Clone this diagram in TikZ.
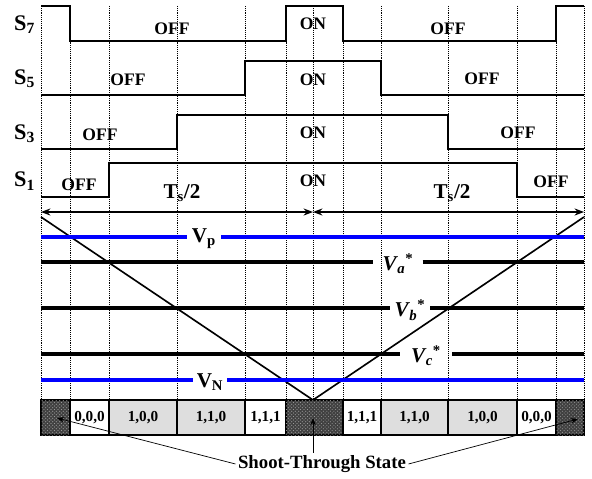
\documentclass[tikz,border=0pt]{standalone}
\usepackage{fontspec}
\setmainfont{Liberation Serif}
\usetikzlibrary{patterns,arrows.meta}
\newcommand{\vref}[1]{\textbf{\textit{V\kern0.5pt}}\textsubscript{\textbf{\textit{#1}}}\textsuperscript{\textbf{*}}}
\tikzset{
  sig/.style={line width=1.8pt},
  guide/.style={densely dotted, line width=0.6pt},
  carrier/.style={line width=1.4pt},
  level/.style={line width=2.8pt},
  blevel/.style={line width=2.6pt, blue},
  lbl/.style={font=\bfseries\fontsize{15}{18}\selectfont, inner sep=1pt},
  slbl/.style={font=\bfseries\fontsize{19}{22}\selectfont, anchor=west, inner sep=0pt},
  vlbl/.style={font=\bfseries\fontsize{18}{21}\selectfont, inner sep=0pt},
  cellW/.style={draw, line width=1.4pt, fill=white},
  cellL/.style={draw, line width=1.4pt, fill=black!13},
  cellD/.style={draw, line width=1.4pt, fill=black!75,
    postaction={pattern=crosshatch dots, pattern color=black!40}},
  pointer/.style={-{Stealth[length=6pt]}, line width=0.6pt}
}
\begin{document}
\begin{tikzpicture}[x=0.03cm, y=-0.03cm]
  \useasboundingbox (0,0) rectangle (592,478);
  % 绘制虚线
  \foreach \x in {41,70,109,177,245,286,313,343,381,448,517,556,584}
    \draw[guide] (\x,6) -- (\x,400);
  % 绘制开关信号
  \draw[sig] (41,6) -- (70,6) -- (70,41) -- (286,41) -- (286,6) -- (343,6) -- (343,41) -- (556,41) -- (556,6) -- (584,6);
  \draw[sig] (41,95) -- (245,95) -- (245,61) -- (381,61) -- (381,95) -- (584,95);
  \draw[sig] (41,149) -- (177,149) -- (177,115) -- (448,115) -- (448,149) -- (584,149);
  \draw[sig] (41,197) -- (109,197) -- (109,163) -- (517,163) -- (517,197) -- (584,197);
  % 标记开关名称
  \node[slbl] (s7) at (14,25) {S\textsubscript{7}};
  \node[slbl] (s5) at (14,79) {S\textsubscript{5}};
  \node[slbl] (s3) at (14,134) {S\textsubscript{3}};
  \node[slbl] (s1) at (14,181) {S\textsubscript{1}};
  % 标记开关状态
  \node[lbl] (off7l) at (172,29) {OFF};
  \node[lbl] (off5l) at (128,80) {OFF};
  \node[lbl] (off3l) at (100,135) {OFF};
  \node[lbl] (off1l) at (79,185) {OFF};
  \node[lbl] (on7) at (313,24) {ON};
  \node[lbl] (on5) at (313,80) {ON};
  \node[lbl] (on3) at (313,133) {ON};
  \node[lbl] (on1) at (313,181) {ON};
  \node[lbl] (off7r) at (448,29) {OFF};
  \node[lbl] (off5r) at (482,79) {OFF};
  \node[lbl] (off3r) at (518,133) {OFF};
  \node[lbl] (off1r) at (551,182) {OFF};
  % 标记半周期
  \coordinate (pl) at (41,212);
  \coordinate (pm) at (313,212);
  \coordinate (pr) at (584,212);
  \draw[carrier, {Stealth[length=8pt]}-{Stealth[length=8pt]}] (pl) -- (pm);
  \draw[carrier, {Stealth[length=8pt]}-{Stealth[length=8pt]}] (pm) -- (pr);
  \node[vlbl] (tl) at (182,193) {T\textsubscript{s}/2};
  \node[vlbl] (tr) at (452,193) {T\textsubscript{s}/2};
  % 绘制三角载波
  \coordinate (cl) at (41,217);
  \coordinate (cb) at (313,400);
  \coordinate (cr) at (584,217);
  \draw[carrier] (cl) -- (cb) -- (cr);
  % 绘制参考电压
  \node[vlbl, minimum width=34*0.03cm] (vp) at (204,239) {V\textsubscript{p}};
  \draw[blevel] (41,237) -- (vp.west |- 0,237);
  \draw[blevel] (vp.east |- 0,237) -- (584,237);
  \node[vlbl, minimum width=49*0.03cm] (va) at (398,264) {\vref{a}};
  \draw[level] (41,262) -- (va.west |- 0,262);
  \draw[level] (va.east |- 0,262) -- (584,262);
  \node[vlbl, minimum width=40*0.03cm] (vb) at (410,310) {\vref{b}};
  \draw[level] (41,308) -- (vb.west |- 0,308);
  \draw[level] (vb.east |- 0,308) -- (584,308);
  \node[vlbl, minimum width=52*0.03cm] (vc) at (426,356) {\vref{c}};
  \draw[level] (41,354) -- (vc.west |- 0,354);
  \draw[level] (vc.east |- 0,354) -- (584,354);
  \node[vlbl, minimum width=34*0.03cm] (vn) at (210,382) {V\textsubscript{N}};
  \draw[blevel] (41,380) -- (vn.west |- 0,380);
  \draw[blevel] (vn.east |- 0,380) -- (584,380);
  % 绘制开关矢量
  \foreach \xa/\xb/\st/\t in {41/70/cellD/{}, 70/109/cellW/{0,0,0}, 109/177/cellL/{1,0,0},
      177/245/cellL/{1,1,0}, 245/286/cellW/{1,1,1}, 286/343/cellD/{}, 343/381/cellW/{1,1,1},
      381/448/cellL/{1,1,0}, 448/517/cellL/{1,0,0}, 517/556/cellW/{0,0,0}, 556/584/cellD/{}}
    \draw[\st] (\xa,400) rectangle (\xb,435) node[midway, font=\bfseries\fontsize{13}{15}\selectfont] {\t};
  % 标记直通状态
  \coordinate (stl) at (57,418);
  \coordinate (stm) at (313,418);
  \coordinate (str) at (578,419);
  \node[font=\bfseries\fontsize{16}{19}\selectfont, inner sep=2pt] (st) at (322,464) {Shoot-Through State};
  \draw[pointer] (st.west) -- (stl);
  \draw[pointer] (st.north -| stm) -- (stm);
  \draw[pointer] (st.east) -- (str);
\end{tikzpicture}
\end{document}
